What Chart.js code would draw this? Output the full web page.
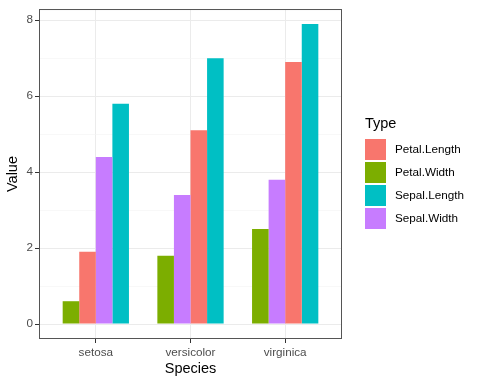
<!DOCTYPE html>
<html>
<head>
<meta charset="utf-8">
<script src="https://cdn.jsdelivr.net/npm/chart.js@4"></script>
<style>
  body { margin: 0; background: #fff; }
  #wrap { width: 480px; height: 384px; }
</style>
</head>
<body>
<div id="wrap"><canvas id="chart" width="480" height="384"></canvas></div>
<script>
const species = ['setosa', 'versicolor', 'virginica'];
const types = ['Petal.Length', 'Petal.Width', 'Sepal.Length', 'Sepal.Width'];
const petalLength = [1.9, 5.1, 6.9];
const petalWidth = [0.6, 1.8, 2.5];
const sepalLength = [5.8, 7.0, 7.9];
const sepalWidth = [4.4, 3.4, 3.8];
const yTicks = [0, 1, 2, 3, 4, 5, 6, 7, 8];

const typeColors = ['#F8766D', '#7CAE00', '#00BFC4', '#C77CFF'];
const typeValues = [petalLength, petalWidth, sepalLength, sepalWidth];

// bars inside each group are ordered by value, so build 4 "slot" datasets
const slots = [0, 1, 2, 3].map(() => ({ data: [], backgroundColor: [] }));
species.forEach((sp, i) => {
    const order = types.map((t, k) => k).sort((a, b) => typeValues[a][i] - typeValues[b][i]);
    order.forEach((k, s) => {
        slots[s].data.push({ x: i + 1, y: typeValues[k][i] });
        slots[s].backgroundColor.push(typeColors[k]);
    });
});

const datasets = slots.map(s => ({
    data: s.data,
    backgroundColor: s.backgroundColor,
    borderWidth: 0,
    categoryPercentage: 0.7,
    barPercentage: 1.0
}));

// panel border + legend drawn by hand, ggplot style
const ggExtras = {
    id: 'ggExtras',
    afterDatasetsDraw(chart) {
        const { ctx, chartArea: a } = chart;
        ctx.save();
        ctx.strokeStyle = '#555555';
        ctx.lineWidth = 1;
        ctx.strokeRect(a.left + 0.5, a.top + 0.5, a.right - a.left - 1, a.bottom - a.top - 1);
        ctx.restore();
    },
    afterDraw(chart) {
        const ctx = chart.ctx;
        ctx.save();
        ctx.fillStyle = '#000';
        ctx.textBaseline = 'middle';
        ctx.font = '14.5px "Liberation Sans", Arial, sans-serif';
        ctx.fillText('Type', 365, 124);
        ctx.font = '11.7px "Liberation Sans", Arial, sans-serif';
        types.forEach((t, k) => {
            const y = 139 + k * 23;
            ctx.fillStyle = typeColors[k];
            ctx.fillRect(365, y, 21, 21);
            ctx.fillStyle = '#000';
            ctx.fillText(t, 395, y + 11);
        });
        ctx.restore();
    }
};

new Chart(document.getElementById('chart'), {
    type: 'bar',
    data: { datasets: datasets },
    plugins: [ggExtras],
    options: {
        responsive: false,
        animation: false,
        layout: { padding: { top: 7, right: 138, left: 0, bottom: 0 } },
        plugins: { legend: { display: false }, tooltip: { enabled: false } },
        scales: {
            x: {
                type: 'linear',
                min: 0.4,
                max: 3.6,
                offset: false,
                afterBuildTicks: s => { s.ticks = [1, 2, 3].map(v => ({ value: v })); },
                afterFit: s => { s.height = 45; },
                ticks: {
                    callback: v => species[v - 1],
                    color: '#4D4D4D',
                    font: { family: '"Liberation Sans", Arial, sans-serif', size: 11.7 },
                    padding: 3,
                    maxRotation: 0
                },
                grid: { offset: false, color: '#EBEBEB', lineWidth: 1, tickLength: 4, tickColor: '#333333' },
                border: { display: false },
                title: {
                    display: true,
                    text: 'Species',
                    color: '#000',
                    font: { family: '"Liberation Sans", Arial, sans-serif', size: 14.5 },
                    padding: { top: 0, bottom: 6 }
                }
            },
            y: {
                min: -0.395,
                max: 8.295,
                afterBuildTicks: s => { s.ticks = yTicks.map(v => ({ value: v })); },
                afterFit: s => { s.width = 39; },
                ticks: {
                    callback: v => (v % 2 === 0 ? String(v) : ''),
                    color: '#4D4D4D',
                    font: { family: '"Liberation Sans", Arial, sans-serif', size: 11.7 },
                    padding: 2
                },
                grid: {
                    color: c => (c.tick && c.tick.value % 2 === 0 ? '#EBEBEB' : '#F3F3F3'),
                    lineWidth: c => (c.tick && c.tick.value % 2 === 0 ? 1 : 0.6),
                    tickLength: 4,
                    tickColor: c => (c.tick && c.tick.value % 2 === 0 ? '#333333' : 'rgba(0,0,0,0)')
                },
                border: { display: false },
                title: {
                    display: true,
                    text: 'Value',
                    color: '#000',
                    font: { family: '"Liberation Sans", Arial, sans-serif', size: 14.5 },
                    padding: { top: 4, bottom: 0 }
                }
            }
        }
    }
});
</script>
</body>
</html>
